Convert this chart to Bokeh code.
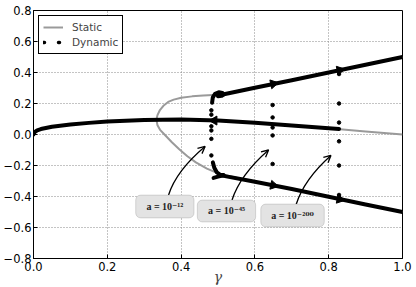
import math
from bokeh.plotting import figure
from bokeh.models import (FixedTicker, CustomJSTickFormatter, Legend, LegendItem,
                          BoxAnnotation, Label, Arrow, OpenHead)
from bokeh.embed import file_html
from bokeh.resources import INLINE

# ---------------- data ----------------
x_ticks = [0.0, 0.2, 0.4, 0.6, 0.8, 1.0]
y_ticks = [-0.8, -0.6, -0.4, -0.2, 0.0, 0.2, 0.4, 0.6, 0.8]

# static: middle branch
static_mid_x = [0.0, 0.003, 0.01, 0.02, 0.05, 0.1, 0.15, 0.2, 0.3, 0.4, 0.5, 0.6, 0.7, 0.8, 0.9, 1.0]
static_mid_y = [0.0, 0.015, 0.027, 0.035, 0.05, 0.065, 0.075, 0.084, 0.094, 0.097, 0.09, 0.076, 0.058, 0.04, 0.02, 0.0]

# static: C-shaped branch (upper -> nose -> lower)
static_c_x = [1.0, 0.9, 0.8, 0.7, 0.6, 0.5, 0.46, 0.43, 0.4, 0.38, 0.365, 0.352, 0.342, 0.336, 0.333,
              0.336, 0.343, 0.355, 0.375, 0.395, 0.417, 0.44, 0.47, 0.505, 0.6, 0.7, 0.8, 0.9, 1.0]
static_c_y = [0.5, 0.45, 0.4, 0.35, 0.3, 0.256, 0.251, 0.246, 0.237, 0.225, 0.21, 0.185, 0.155, 0.125, 0.096,
              0.06, 0.03, 0.0, -0.05, -0.095, -0.14, -0.18, -0.22, -0.256, -0.303, -0.352, -0.402, -0.452, -0.5]

# dynamic trajectories (dense dots -> drawn as thick traces)
dyn_mid_x = [0.0, 0.003, 0.01, 0.02, 0.05, 0.1, 0.15, 0.2, 0.3, 0.4, 0.5, 0.6, 0.7, 0.8, 0.828]
dyn_mid_y = [0.0, 0.015, 0.027, 0.035, 0.05, 0.065, 0.075, 0.084, 0.094, 0.097, 0.09, 0.076, 0.058, 0.04, 0.036]
dyn_up_x = [0.5, 0.6, 0.7, 0.8, 0.9, 1.0]
dyn_up_y = [0.252, 0.302, 0.35, 0.4, 0.45, 0.5]
dyn_lo_x = [0.505, 0.6, 0.7, 0.8, 0.9, 1.0]
dyn_lo_y = [-0.262, -0.305, -0.352, -0.402, -0.452, -0.5]
hook_up_x = [0.484, 0.486, 0.492, 0.502, 0.512, 0.515, 0.51, 0.5]
hook_up_y = [0.205, 0.24, 0.262, 0.272, 0.268, 0.258, 0.25, 0.247]
hook_lo_x = [0.486, 0.49, 0.497, 0.506, 0.515]
hook_lo_y = [-0.18, -0.215, -0.245, -0.26, -0.262]
hook_lo2_x = [0.488, 0.5, 0.515]
hook_lo2_y = [-0.28, -0.272, -0.263]

# isolated dynamic points (transients)
dots_x = [0.482, 0.482, 0.482, 0.482, 0.482, 0.482,
          0.648, 0.648, 0.648, 0.648, 0.648,
          0.828, 0.828, 0.828, 0.828, 0.828, 0.828]
dots_y = [0.156, 0.128, 0.053, 0.026, -0.028, -0.135,
          0.19, 0.11, 0.045, -0.006, -0.19,
          0.2, 0.077, -0.044, -0.2, 0.39, -0.39]

# arrow heads on the trajectories
head_x = [0.65, 0.83, 0.65, 0.83, 0.49]
head_y = [0.327, 0.415, -0.328, -0.418, 0.09]
head_dir = [1, 1, -1, -1, 0]   # slope sign (up / down / flat-left)

# annotations
ann_text = ["a = 10\u207b\u00b9\u00b2", "a = 10\u207b\u2074\u2075", "a = 10\u207b\u00b2\u2070\u2070"]
ann_tail = [(0.366, -0.39), (0.538, -0.423), (0.712, -0.45)]
ann_ctrl = [(0.387, -0.233), (0.56, -0.26), (0.733, -0.29)]
ann_tip = [(0.465, -0.077), (0.637, -0.1), (0.806, -0.135)]
ann_box = [(0.277, 0.435, -0.538, -0.391), (0.444, 0.602, -0.564, -0.423), (0.616, 0.788, -0.596, -0.449)]

# ---------------- figure ----------------
p = figure(width=416, height=287, output_backend="svg", toolbar_location=None,
           x_range=(0, 1), y_range=(-0.8, 0.8),
           min_border_left=30, min_border_right=14, min_border_top=10, min_border_bottom=27)
p.background_fill_color = "white"
p.border_fill_color = "white"
p.outline_line_color = "black"
p.outline_line_width = 1
p.outline_line_alpha = 1

fmt = CustomJSTickFormatter(code="return tick.toFixed(1).replace('-', '\u2212');")
for ax, ticks in ((p.xaxis[0], x_ticks), (p.yaxis[0], y_ticks)):
    ax.ticker = FixedTicker(ticks=ticks)
    ax.formatter = fmt
    ax.major_tick_in = 4
    ax.major_tick_out = 0
    ax.minor_tick_line_color = None
    ax.axis_line_color = "black"
    ax.major_tick_line_color = "black"
    ax.major_label_text_font = "DejaVu Sans"
    ax.major_label_text_font_size = "11.5px"
    ax.major_label_text_color = "black"
p.yaxis.major_label_standoff = 2
p.xaxis.major_label_standoff = 3
p.xaxis.axis_label = "\u03b3"
p.xaxis.axis_label_text_font = "DejaVu Serif"
p.xaxis.axis_label_text_font_style = "italic"
p.xaxis.axis_label_text_font_size = "14px"
p.xaxis.axis_label_standoff = -5

for g in (p.xgrid[0], p.ygrid[0]):
    g.grid_line_color = "#888888"
    g.grid_line_dash = "1 2"
    g.grid_line_width = 1

GRAY = "#9a9a9a"
r_static = p.line(static_mid_x, static_mid_y, line_color=GRAY, line_width=2)
p.line(static_c_x, static_c_y, line_color=GRAY, line_width=2)

for xs, ys in ((dyn_mid_x, dyn_mid_y), (dyn_up_x, dyn_up_y), (dyn_lo_x, dyn_lo_y),
               (hook_up_x, hook_up_y), (hook_lo_x, hook_lo_y), (hook_lo2_x, hook_lo2_y)):
    p.line(xs, ys, line_color="black", line_width=4, line_cap="round", line_join="round")

p.scatter(dots_x, dots_y, size=3.5, color="black")

tilt = 0.206
angles = [(-math.pi / 2 + tilt * d) if d != 0 else math.pi / 2 for d in head_dir]
p.scatter(head_x, head_y, marker="triangle", size=9, angle=angles, color="black")

# legend proxy for the dotted "Dynamic" sample (not drawn in the plot: NaN data)
r_dyn_leg = p.line(x=[float("nan"), float("nan")], y=[float("nan"), float("nan")],
                   line_color="black", line_width=3.5, line_dash="1 14", line_cap="round")

legend = Legend(items=[LegendItem(label="Static", renderers=[r_static]),
                       LegendItem(label="Dynamic", renderers=[r_dyn_leg])],
                location="top_left", margin=5, padding=4, spacing=1,
                glyph_width=20, glyph_height=14, label_height=14, label_standoff=9,
                label_text_font="DejaVu Sans", label_text_font_size="10.5px",
                border_line_color="black", border_line_width=1, border_line_alpha=1,
                background_fill_color="white", background_fill_alpha=1)
p.add_layout(legend)

# annotation boxes with curved arrows
for txt, (l, r, b, t), (x0, y0), (cx, cy), (x1, y1) in zip(ann_text, ann_box, ann_tail, ann_ctrl, ann_tip):
    p.quadratic(x0=[x0], y0=[y0], x1=[x1], y1=[y1], cx=[cx], cy=[cy], line_color="black", line_width=1.3)
    dx, dy = x1 - cx, y1 - cy
    n = math.hypot(dx, dy)
    p.add_layout(Arrow(end=OpenHead(size=7, line_width=1.3, line_color="black"),
                       x_start=x1 - 0.01 * dx / n, y_start=y1 - 0.01 * dy / n, x_end=x1, y_end=y1,
                       line_color="black", line_width=1.3))
    p.add_layout(BoxAnnotation(left=l, right=r, bottom=b, top=t, fill_color="#e3e3e3", fill_alpha=1,
                               line_color="#8c8c8c", line_width=1, border_radius=5, level="annotation"))
    p.add_layout(Label(x=(l + r) / 2, y=(b + t) / 2, text=txt, text_align="center", text_baseline="middle",
                       text_font="Liberation Serif, DejaVu Serif", text_font_style="bold",
                       text_font_size="10px", text_color="#222222"))

open("out.html", "w").write(file_html(p, INLINE))
